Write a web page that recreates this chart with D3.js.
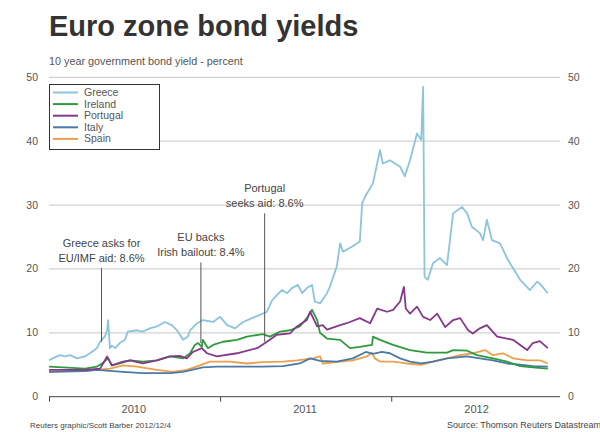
<!DOCTYPE html>
<html><head><meta charset="utf-8">
<script src="https://cdn.jsdelivr.net/npm/d3@7"></script>
<style>
html,body{margin:0;padding:0;background:#fff;}
svg{display:block;font-family:"Liberation Sans",Arial,sans-serif;}
</style></head>
<body><svg id="c" width="600" height="432"></svg>
<script>
const yTicks = [0,10,20,30,40,50];
const yearLabels = ["2010","2011","2012"];
const seriesNames = ["Greece","Ireland","Portugal","Italy","Spain"];
const seriesColors = ["#8cc4dd","#2f9a3d","#86388a","#4a7aa5","#eca04e"];

const greece = [
["2010-01-01",5.7],["2010-01-09",6.0],["2010-01-24",6.5],["2010-02-04",6.3],["2010-02-15",6.5],
["2010-03-02",6.0],["2010-03-19",6.3],["2010-03-29",6.8],["2010-04-13",7.6],["2010-04-20",8.6],
["2010-04-26",9.1],["2010-04-30",9.4],["2010-05-05",10.4],["2010-05-07",12.0],["2010-05-11",7.6],
["2010-05-15",8.0],["2010-05-22",7.6],["2010-06-01",8.4],["2010-06-12",8.9],["2010-06-18",10.2],
["2010-07-08",10.4],["2010-07-20",10.2],["2010-08-04",10.7],["2010-08-19",11.0],["2010-09-05",11.7],
["2010-09-20",11.2],["2010-10-01",10.4],["2010-10-14",8.9],["2010-10-24",9.4],["2010-10-29",10.4],
["2010-11-13",11.5],["2010-11-25",12.0],["2010-12-17",11.7],["2011-01-01",12.5],["2011-01-16",11.2],
["2011-02-02",10.7],["2011-02-19",11.7],["2011-03-10",12.3],["2011-03-27",12.8],["2011-04-11",13.3],
["2011-04-22",15.1],["2011-05-02",15.9],["2011-05-13",16.7],["2011-05-24",16.2],["2011-06-03",17.0],
["2011-06-16",17.5],["2011-06-25",16.2],["2011-07-05",17.0],["2011-07-16",17.5],["2011-07-22",14.9],
["2011-08-02",14.6],["2011-08-17",16.2],["2011-08-23",17.2],["2011-09-07",20.4],["2011-09-14",24.0],
["2011-09-20",22.7],["2011-10-10",23.5],["2011-10-26",24.3],["2011-10-31",30.3],["2011-11-06",31.3],
["2011-11-23",33.4],["2011-12-08",38.6],["2011-12-14",36.5],["2011-12-29",37.0],["2012-01-20",36.0],
["2012-01-30",34.5],["2012-02-10",37.0],["2012-02-25",41.2],["2012-03-05",40.2],["2012-03-09",48.5],
["2012-03-10",40.2],["2012-03-12",18.8],["2012-03-19",18.3],["2012-03-30",20.9],["2012-04-14",21.7],
["2012-04-29",20.6],["2012-05-12",28.7],["2012-05-31",29.7],["2012-06-11",28.7],["2012-06-21",26.6],
["2012-07-08",25.6],["2012-07-15",24.5],["2012-07-23",27.7],["2012-08-03",24.5],["2012-08-20",24.0],
["2012-09-06",21.4],["2012-10-02",18.3],["2012-10-23",16.7],["2012-11-07",18.0],["2012-11-13",17.7],
["2012-11-30",16.2]];

const ireland = [
["2010-01-01",4.7],["2010-01-31",4.6],["2010-03-19",4.4],["2010-04-13",4.7],["2010-04-24",5.2],
["2010-05-07",6.0],["2010-05-15",4.9],["2010-06-01",5.2],["2010-06-23",5.7],["2010-07-20",5.5],
["2010-08-19",5.7],["2010-09-16",6.3],["2010-10-14",6.0],["2010-10-29",6.8],["2010-11-08",8.1],
["2010-11-15",8.4],["2010-11-23",7.8],["2010-11-25",8.9],["2010-12-06",7.6],["2010-12-17",8.1],
["2011-01-07",8.6],["2011-02-06",8.9],["2011-02-27",9.4],["2011-04-02",9.8],["2011-04-17",9.4],
["2011-05-09",10.2],["2011-05-30",10.4],["2011-06-20",11.0],["2011-07-05",12.3],["2011-07-16",13.6],
["2011-07-27",12.0],["2011-08-02",10.0],["2011-08-17",9.1],["2011-09-14",8.9],["2011-10-05",7.6],
["2011-10-26",7.8],["2011-11-21",8.1],["2011-11-23",9.4],["2011-12-08",8.9],["2012-01-05",8.1],
["2012-02-10",7.3],["2012-03-17",6.9],["2012-04-29",6.9],["2012-05-12",7.3],["2012-06-11",7.2],
["2012-07-02",6.5],["2012-08-05",6.0],["2012-09-04",5.5],["2012-10-02",4.8],["2012-10-29",4.6],
["2012-11-30",4.4]];

const portugal = [
["2010-01-01",4.2],["2010-03-19",4.2],["2010-04-20",4.4],["2010-05-05",6.3],["2010-05-15",4.9],
["2010-06-08",5.5],["2010-06-23",5.7],["2010-07-20",5.2],["2010-08-19",5.7],["2010-09-16",6.3],
["2010-10-07",6.4],["2010-10-22",6.0],["2010-11-04",7.0],["2010-11-23",7.6],["2010-12-04",6.8],
["2010-12-25",6.3],["2011-02-06",6.8],["2011-03-21",7.6],["2011-04-11",8.6],["2011-05-02",9.7],
["2011-05-30",9.9],["2011-06-14",11.0],["2011-07-05",12.0],["2011-07-12",13.3],["2011-07-27",11.0],
["2011-08-08",11.2],["2011-08-17",10.5],["2011-09-14",11.2],["2011-09-28",11.5],["2011-10-26",12.3],
["2011-11-17",11.5],["2011-12-02",13.8],["2011-12-23",13.3],["2012-01-05",13.6],["2012-01-20",14.9],
["2012-01-28",17.2],["2012-02-01",13.8],["2012-02-10",13.0],["2012-02-25",14.1],["2012-03-09",12.5],
["2012-03-24",12.0],["2012-04-08",13.0],["2012-04-25",10.9],["2012-05-12",12.0],["2012-05-27",12.3],
["2012-06-13",10.4],["2012-06-23",9.9],["2012-07-08",10.7],["2012-07-23",11.2],["2012-08-14",9.4],
["2012-09-04",9.1],["2012-09-17",8.9],["2012-10-02",8.1],["2012-10-17",7.3],["2012-10-29",8.4],
["2012-11-13",8.7],["2012-11-30",7.6]];

const italy = [
["2010-01-01",3.9],["2010-03-19",4.0],["2010-04-13",4.2],["2010-06-08",3.9],["2010-07-20",3.7],
["2010-09-16",3.7],["2010-10-14",3.9],["2010-11-25",4.6],["2010-12-25",4.7],["2011-02-19",4.7],
["2011-04-02",4.7],["2011-05-15",4.8],["2011-06-20",5.2],["2011-07-12",6.0],["2011-08-02",5.6],
["2011-09-07",5.5],["2011-10-11",6.0],["2011-11-08",7.0],["2011-11-23",6.7],["2011-12-12",7.0],
["2011-12-29",6.8],["2012-01-20",6.0],["2012-02-10",5.5],["2012-03-05",5.2],["2012-03-30",5.5],
["2012-04-29",6.0],["2012-06-11",6.3],["2012-07-08",6.0],["2012-08-05",5.7],["2012-09-04",5.2],
["2012-10-02",5.0],["2012-10-29",4.8],["2012-11-30",4.7]];

const spain = [
["2010-01-01",3.9],["2010-03-19",4.1],["2010-04-13",4.2],["2010-05-11",4.4],["2010-06-08",4.9],
["2010-07-08",4.7],["2010-08-19",4.2],["2010-09-22",3.9],["2010-10-22",4.2],["2010-11-19",4.9],
["2010-12-10",5.5],["2011-01-22",5.5],["2011-02-27",5.2],["2011-04-02",5.4],["2011-05-15",5.5],
["2011-06-14",5.7],["2011-07-18",6.0],["2011-08-02",6.3],["2011-08-08",5.2],["2011-09-14",5.5],
["2011-10-11",5.7],["2011-11-10",6.3],["2011-11-21",6.9],["2011-11-27",6.0],["2011-12-08",5.5],
["2012-01-05",5.5],["2012-02-03",5.2],["2012-03-05",5.0],["2012-03-30",5.5],["2012-04-29",6.0],
["2012-05-27",6.5],["2012-06-23",6.8],["2012-07-19",7.3],["2012-08-05",6.5],["2012-08-26",6.8],
["2012-09-17",6.0],["2012-10-17",5.7],["2012-11-13",5.7],["2012-11-30",5.2]];

// text baseline level of first line given on the value scale
const annotations = [
  {lines:["Greece asks for","EU/IMF aid: 8.6%"], date:"2010-04-23", value:8.6, textLevel:23.4},
  {lines:["EU backs","Irish bailout: 8.4%"], date:"2010-11-21", value:8.4, textLevel:24.3},
  {lines:["Portugal","seeks aid: 8.6%"], date:"2011-04-06", value:8.6, textLevel:32.0}
];

const parse = d3.timeParse("%Y-%m-%d");
const svg = d3.select("#c");
const x = d3.scaleTime().domain([parse("2010-01-01"), parse("2012-12-26")]).range([49, 560]);
const y = d3.scaleLinear().domain([0, 50]).range([396.7, 77.3]);
const textCol = "#444";

// title
svg.append("text").attr("x", 49).attr("y", 36).attr("font-size", 29).attr("font-weight", "bold")
  .attr("fill", "#333").text("Euro zone bond yields");
svg.append("text").attr("x", 49).attr("y", 65).attr("font-size", 10.8).attr("fill", "#555")
  .text("10 year government bond yield - percent");

// gridlines
const [x0, x1] = x.range();
svg.append("g").selectAll("line").data(yTicks.filter(d => d > 0)).join("line")
  .attr("x1", x0).attr("x2", x1).attr("y1", d => y(d)).attr("y2", d => y(d))
  .attr("stroke", "#d2d2d2").attr("stroke-width", 1.2);

// y labels both sides
svg.append("g").selectAll("text").data(yTicks).join("text")
  .attr("x", 38).attr("y", d => y(d) + 3.5).attr("text-anchor", "end")
  .attr("font-size", 10.5).attr("fill", "#555").text(d => d);
svg.append("g").selectAll("text").data(yTicks).join("text")
  .attr("x", 568).attr("y", d => y(d) + 3.5).attr("text-anchor", "start")
  .attr("font-size", 10.5).attr("fill", "#555").text(d => d);

// x axis
const xAxis = d3.axisBottom(x).ticks(d3.timeYear.every(1)).tickSize(5).tickFormat("");
const gx = svg.append("g").attr("transform", `translate(0,${y(0)})`).call(xAxis);
gx.select(".domain").attr("stroke", "#444").attr("d", `M${x0},0H${x1}`);
gx.selectAll(".tick line").attr("stroke", "#444");
svg.append("g").selectAll("text").data(yearLabels).join("text")
  .attr("x", d => x(d3.timeMonth.offset(parse(d + "-01-01"), 6)))
  .attr("y", 413).attr("text-anchor", "middle").attr("font-size", 11).attr("fill", "#555")
  .text(d => d);

// lines
const allData = [greece, ireland, portugal, italy, spain];
const line = d3.line().x(d => x(parse(d[0]))).y(d => y(d[1]));
const order = [4, 3, 1, 2, 0];
order.forEach(i => {
  svg.append("path").attr("d", line(allData[i])).attr("fill", "none")
    .attr("stroke", seriesColors[i]).attr("stroke-width", 1.8).attr("stroke-linejoin", "round");
});

// annotations
annotations.forEach(a => {
  const ax = x(parse(a.date));
  const ty = y(a.textLevel);
  a.lines.forEach((t, k) => {
    svg.append("text").attr("x", ax).attr("y", ty + k * 15).attr("text-anchor", "middle")
      .attr("font-size", 11).attr("fill", textCol).text(t);
  });
  svg.append("line").attr("x1", ax).attr("x2", ax)
    .attr("y1", ty + (a.lines.length - 1) * 15 + 6).attr("y2", y(a.value))
    .attr("stroke", "#555").attr("stroke-width", 1);
});

// legend
const lg = svg.append("g");
lg.append("rect").attr("x", 49.5).attr("y", 84.5).attr("width", 110).attr("height", 65)
  .attr("fill", "#fff").attr("stroke", "#333").attr("stroke-width", 1);
seriesNames.forEach((n, i) => {
  const yy = 92.5 + i * 11.6;
  lg.append("line").attr("x1", 53).attr("x2", 78).attr("y1", yy).attr("y2", yy)
    .attr("stroke", seriesColors[i]).attr("stroke-width", 2);
  lg.append("text").attr("x", 84).attr("y", yy + 3.5).attr("font-size", 10.5).attr("fill", "#555").text(n);
});

// footer
svg.append("text").attr("x", 30).attr("y", 428).attr("font-size", 8).attr("fill", "#444")
  .text("Reuters graphic/Scott Barber 2012/12/4");
svg.append("text").attr("x", 447).attr("y", 428).attr("font-size", 9).attr("fill", "#444")
  .text("Source: Thomson Reuters Datastream");
</script></body></html>
